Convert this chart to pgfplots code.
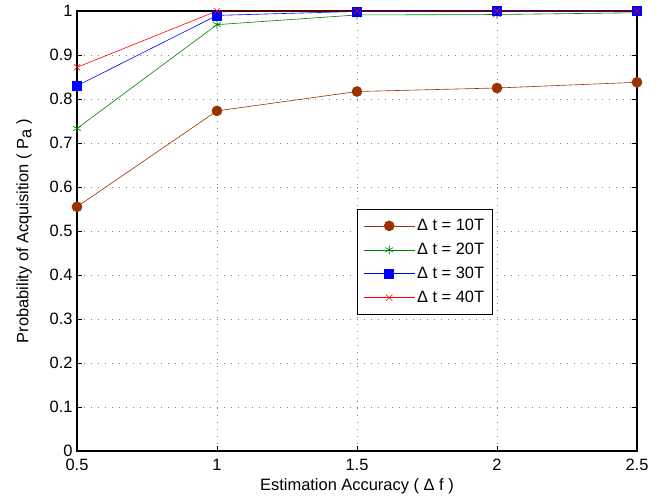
\documentclass[border=0pt]{standalone}
\usepackage{pgfplots}
\pgfplotsset{compat=1.18}
\usepackage{fontspec}
\setmainfont{Liberation Sans}
\setsansfont{Liberation Sans}
\definecolor{c10}{RGB}{153,51,0}
\definecolor{c20}{RGB}{0,128,0}
\definecolor{c30}{RGB}{0,0,255}
\definecolor{c40}{RGB}{255,0,0}
\begin{document}
\begin{tikzpicture}
\begin{axis}[
  scale only axis,
  width=560bp, height=440bp,
  xmin=0.5, xmax=2.5, ymin=0, ymax=1,
  xtick={0.5,1,1.5,2,2.5},
  xticklabels={0.5,1,1.5,2,2.5},
  ytick={0,0.1,...,1},
  yticklabels={0,0.1,0.2,0.3,0.4,0.5,0.6,0.7,0.8,0.9,1},
  tick align=inside,
  major tick length=5bp,
  axis line style={line width=1.2pt},
  every tick/.style={black, line width=0.6pt},
  grid=major,
  major grid style={dash pattern=on 1bp off 6bp, gray, line width=0.8pt},
  font=\fontsize{16.5}{18}\selectfont,
  tick label style={font=\fontsize{16.5}{18}\selectfont},
  xticklabel style={yshift=-5bp},
  yticklabel style={xshift=-1bp},
  xlabel={Estimation Accuracy ( Δ f )},
  ylabel={Probability of Acquisition ( P$_{\textrm{a}}$ )},
  xlabel style={font=\fontsize{16.5}{18}\selectfont, yshift=-1bp},
  ylabel style={font=\fontsize{16.5}{18}\selectfont, yshift=11bp},
  legend style={at={(0.5,0.55)}, anchor=north west, draw=black, line width=0.8pt,
     font=\fontsize{16.5}{18}\selectfont, row sep=7bp, inner xsep=6bp, inner ysep=8bp},
  legend cell align=left,
  legend image code/.code={\draw[#1] (0cm,0cm) -- (1.8cm,0cm); \draw[#1, mark repeat=2, mark phase=2] plot coordinates {(0cm,0cm) (0.9cm,0cm) (1.8cm,0cm)};},
]
\addplot[color=c10, line width=0.6pt, mark=*, mark size=5bp, mark options={fill=c10, draw=c10}]
  coordinates {(0.5,0.555) (1,0.773) (1.5,0.817) (2,0.825) (2.5,0.838)};
\addlegendentry{Δ t = 10T}
\addplot[color=c20, line width=0.6pt, mark=asterisk, mark size=4.5bp]
  coordinates {(0.5,0.733) (1,0.969) (1.5,0.991) (2,0.992) (2.5,0.996)};
\addlegendentry{Δ t = 20T}
\addplot[color=c30, line width=0.6pt, mark=square*, mark size=4.5bp, mark options={fill=c30}]
  coordinates {(0.5,0.830) (1,0.990) (1.5,0.999) (2,1.0) (2.5,1.0)};
\addlegendentry{Δ t = 30T}
\addplot[color=c40, line width=0.6pt, mark=x, mark size=4.5bp]
  coordinates {(0.5,0.872) (1,1.0) (1.5,1.0) (2,1.0) (2.5,1.0)};
\addlegendentry{Δ t = 40T}
\end{axis}
\path ([xshift=-77bp,yshift=-45bp]current axis.south west) rectangle ([xshift=27bp,yshift=11bp]current axis.north east);
\end{tikzpicture}
\end{document}
